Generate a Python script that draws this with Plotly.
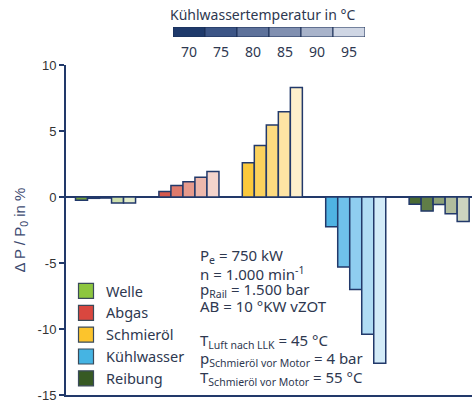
import plotly.graph_objects as go

# ---------------- data ----------------
categories = ["Welle", "Abgas", "Schmieröl", "Kühlwasser", "Reibung"]
temperatures = [70, 75, 80, 85, 90, 95]
temp_labels = ["70", "75", "80", "85", "90", "95"]
bar_temps = ["70", "75", "80", "85", "90"]

# delta P / P0 in % per category, one value per coolant temperature bar
welle = [-0.25, -0.1, -0.08, -0.45, -0.45]
abgas = [0.42, 0.87, 1.15, 1.5, 1.93]
schmieroel = [2.6, 3.9, 5.45, 6.45, 8.3]
kuehlwasser = [-2.25, -5.3, -7.0, -10.4, -12.6]
reibung = [-0.55, -1.07, -0.57, -1.27, -1.85]

values = [welle, abgas, schmieroel, kuehlwasser, reibung]

# ---------------- styles ----------------
shades = {
    "Welle": ["#74a03e", "#90b65a", "#b0cb84", "#cddfac", "#e3edcc"],
    "Abgas": ["#d6584d", "#de7a6c", "#e69a8c", "#edb8ac", "#f4d4cc"],
    "Schmieröl": ["#fbc93c", "#fcd25d", "#fddb80", "#fee4a4", "#fef0cc"],
    "Kühlwasser": ["#4fb3e3", "#6fc1ea", "#8fcef0", "#b0dcf4", "#d3ebf8"],
    "Reibung": ["#4a6a33", "#607d47", "#8da177", "#b1bd9d", "#ccd4bf"],
}
legend_colors = ["#8dc63f", "#d9473f", "#fcc42c", "#45b4e3", "#375a23"]
scale_colors = ["#1f3a6b", "#3c5586", "#5e729b", "#8190b1", "#a8b3ca", "#cfd6e4"]

NAVY = "#22396a"
TXT = "#2e3850"
W, H = 472, 402
L, R, T, B = 66, 0, 0, 7
PH = H - T - B
PW = W - L - R


def py(pix):
    return (PH - (pix - T)) / PH


def px(pix):
    return (pix - L) / PW


fig = go.Figure()

# main bars: one trace per temperature step
for i, t in enumerate(bar_temps):
    fig.add_trace(go.Bar(
        x=list(range(len(categories))),
        y=[values[c][i] for c in range(len(categories))],
        marker=dict(color=[shades[c][i] for c in categories],
                    line=dict(color=NAVY, width=1.5)),
        showlegend=False, name=t + " °C",
        xaxis="x", yaxis="y",
    ))

# legend entries
for c, col in zip(categories, legend_colors):
    fig.add_trace(go.Scatter(
        x=[None], y=[None], mode="markers", name=c,
        marker=dict(symbol="square", size=15, color=col,
                    line=dict(color="#3a4a5a", width=1.2)),
        xaxis="x", yaxis="y",
    ))

# colour scale on top (Kühlwassertemperatur)
fig.add_trace(go.Bar(
    x=temperatures, y=[1] * len(temperatures), width=[5] * len(temperatures),
    marker=dict(color=scale_colors, line=dict(color="#1b2f57", width=1)),
    showlegend=False, xaxis="x2", yaxis="y2", hoverinfo="skip",
))

fig.update_layout(
    width=W, height=H, autosize=False,
    margin=dict(l=L, r=R, t=T, b=B, pad=0, autoexpand=False),
    paper_bgcolor="white", plot_bgcolor="white",
    barmode="group", bargap=0.28, bargroupgap=0,
    font=dict(family="Noto Sans, Open Sans, sans-serif", color=TXT, size=14),
    xaxis=dict(domain=[0, 1], range=[-0.474, 4.394], showticklabels=False,
               ticks="", showgrid=False, zeroline=False, automargin=False,
               showline=True, linecolor=NAVY, linewidth=2),
    yaxis=dict(domain=[0, py(65)], range=[-15, 10], automargin=False,
               tickvals=[-15, -10, -5, 0, 5, 10],
               ticktext=["-15", "-10", "-5", "0", "5", "10"],
               ticklabeloverflow="allow",
               ticks="outside", ticklen=5, tickwidth=2, tickcolor=NAVY,
               tickfont=dict(family="Liberation Sans, Arial", size=13, color="#333333"),
               showgrid=False, zeroline=True, zerolinecolor=NAVY, zerolinewidth=2,
               showline=True, linecolor=NAVY, linewidth=2,
               title=dict(text="Δ P / P<sub>0</sub> in %", standoff=8,
                          font=dict(family="Liberation Sans, Arial", size=15, color="#3c4a70"))),
    xaxis2=dict(domain=[px(173), px(365)], range=[67.5, 97.5], anchor="y2",
                automargin=False,
                tickvals=temperatures, ticktext=temp_labels, ticks="",
                ticklabelstandoff=5, showgrid=False, zeroline=False, showline=False,
                tickfont=dict(family="Noto Sans, Open Sans", size=14, color=TXT)),
    yaxis2=dict(domain=[py(37), py(27)], range=[0, 1], anchor="x2",
                automargin=False, visible=False, showgrid=False),
    legend=dict(x=px(66), y=py(275), xanchor="left", yanchor="top",
                bgcolor="rgba(0,0,0,0)", itemsizing="trace",
                font=dict(family="Noto Sans, Open Sans", size=14.5, color=TXT),
                tracegroupgap=0, itemclick=False),
)

fig.add_annotation(text="Kühlwassertemperatur in °C", xref="paper", yref="paper",
                   x=px(262), y=py(15), xanchor="center", yanchor="middle",
                   showarrow=False,
                   font=dict(family="Noto Sans, Open Sans", size=14, color=TXT))

info = [
    ("P<sub>e</sub> = 750 kW", 256),
    ("n = 1.000 min<sup>-1</sup>", 273),
    ("p<sub>Rail</sub> = 1.500 bar", 290),
    ("AB = 10 °KW vZOT", 306),
    ("T<sub>Luft nach LLK</sub> = 45 °C", 341),
    ("p<sub>Schmieröl vor Motor</sub> = 4 bar", 359),
    ("T<sub>Schmieröl vor Motor</sub> = 55 °C", 378),
]
for txt, yy in info:
    fig.add_annotation(text=txt, xref="paper", yref="paper", x=px(198), y=py(yy),
                       xanchor="left", yanchor="middle", showarrow=False, align="left",
                       font=dict(family="Noto Sans, Open Sans", size=15, color=TXT))

fig.write_html(
    "out.html",
    config={"displayModeBar": False},
    post_script=(
        "document.body.style.margin='0';document.body.style.padding='0';"
        "var gd=document.querySelector('.plotly-graph-div');"
        "gd.style.position='fixed';gd.style.top='0px';gd.style.left='0px';"
    ),
)
